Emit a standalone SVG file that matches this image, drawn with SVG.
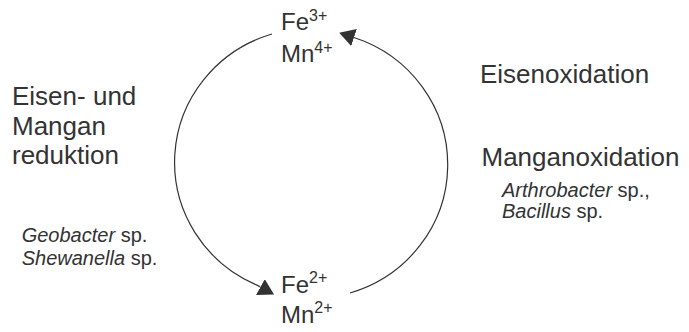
<svg xmlns="http://www.w3.org/2000/svg" width="689" height="332" viewBox="0 0 689 332">
<defs>
<style>
text{font-family:"Liberation Sans",Arial,sans-serif;fill:#333}
.big{font-size:26px}
.ion{font-size:24px}
.sup{font-size:16px}
.sp{font-size:20px}
.it{font-style:italic}
.arc{fill:none;stroke:#333;stroke-width:1.2}
</style>
<marker id="ah" markerUnits="userSpaceOnUse" markerWidth="16" markerHeight="18" refX="0" refY="9" orient="auto" viewBox="0 0 16 18">
<path d="M0,0 L15.6,9 L0,18 Z" fill="#333"/>
</marker>
</defs>
<rect width="689" height="332" fill="#fff"/>
<g id="connectors">
<path class="arc" d="M272,34 A137,134 0 0 0 257.5,285.4 L260.4,287" marker-end="url(#ah)"/>
<path class="arc" d="M350,293 A137,134 0 0 0 354,37.5" marker-end="url(#ah)"/>
</g>
<g id="node-oxidized">
<text class="ion" x="281" y="30">Fe<tspan class="sup" dy="-9.5">3+</tspan></text>
<text class="ion" x="281" y="61.7">Mn<tspan class="sup" dy="-8.5">4+</tspan></text>
</g>
<g id="node-reduced">
<text class="ion" x="281" y="293.3">Fe<tspan class="sup" dy="-10">2+</tspan></text>
<text class="ion" x="281" y="323.3">Mn<tspan class="sup" dy="-10">2+</tspan></text>
</g>
<g id="label-reduction">
<text class="big" x="12" y="105">Eisen- und</text>
<text class="big" x="12" y="134.5">Mangan</text>
<text class="big" x="12" y="164">reduktion</text>
<text class="sp" x="21.7" y="241.7"><tspan class="it">Geobacter</tspan> sp.</text>
<text class="sp" x="21.7" y="265"><tspan class="it">Shewanella</tspan> sp.</text>
</g>
<g id="label-oxidation">
<text class="big" x="480" y="83">Eisenoxidation</text>
<text class="big" x="481.5" y="166">Manganoxidation</text>
<text class="sp" x="502" y="197">
<tspan class="it">Arthrobacter</tspan> sp.,</text>
<text class="sp" x="502" y="218"><tspan class="it">Bacillus</tspan> sp.</text>
</g>
</svg>
